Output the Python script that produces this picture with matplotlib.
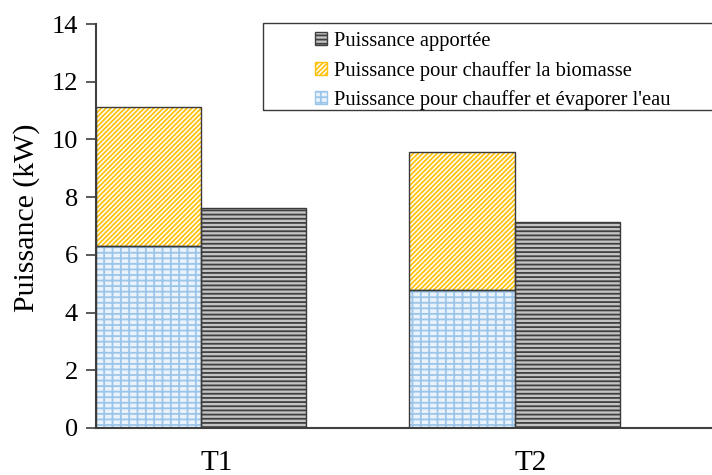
import numpy as np
import matplotlib
matplotlib.use("Agg")
import matplotlib.pyplot as plt
from matplotlib.patches import Patch, Rectangle

# Puissances par essai (kW)
essais = ["T1", "T2"]
p_eau = [6.3, 4.78]          # chauffer et évaporer l'eau
p_biomasse = [4.83, 4.79]    # chauffer la biomasse
p_apportee = [7.62, 7.14]    # puissance apportée
y_ticks = [0, 2, 4, 6, 8, 10, 12, 14]

lbl_apportee = "Puissance apportée"
lbl_biomasse = "Puissance pour chauffer la biomasse"
lbl_eau = "Puissance pour chauffer et évaporer l'eau"

plt.rcParams["font.family"] = ["Liberation Serif", "DejaVu Serif"]
plt.rcParams["hatch.linewidth"] = 1.3

axis_col = "#404040"
edge_col = "#3a3a3a"

# styles: (face, hatch colour, hatch)
st_eau = ("#eaf2fb", "#9cc5ea", "---||")
st_bio = ("#ffffff", "#ffc20e", "///////")
st_app = ("#c4c4c4", "#404040", "----")

fig = plt.figure(figsize=(7.12, 4.75), dpi=100)
ax = fig.add_axes([96 / 712, 47 / 475, 616 / 712, 404 / 475])

x = np.arange(len(essais))
w = 0.335


def hatched_bar(xs, h, bottom, style):
    face, hcol, hatch = style
    ax.bar(xs, h, w, bottom=bottom, align="edge", color=face,
           edgecolor=hcol, hatch=hatch, linewidth=0, zorder=2)
    ax.bar(xs, h, w, bottom=bottom, align="edge", fill=False,
           edgecolor=edge_col, linewidth=1.0, zorder=3)


hatched_bar(x - w, p_eau, 0, st_eau)
hatched_bar(x - w, p_biomasse, p_eau, st_bio)
hatched_bar(x, p_apportee, 0, st_app)

ax.set_xlim(-w, 1.63)
ax.set_ylim(0, 14)
ax.set_yticks(y_ticks)
ax.tick_params(axis="y", direction="out", length=7, width=1.2,
               color=axis_col, labelsize=19, pad=6)
ax.set_xticks(x + 0.05)
ax.set_xticklabels(essais)
ax.tick_params(axis="x", length=0, labelsize=21, pad=16)
ax.set_ylabel("Puissance (kW)", fontsize=21.5)
ax.yaxis.set_label_coords(-0.091, 0.52)

for s in ["top", "right"]:
    ax.spines[s].set_visible(False)
for s in ["left", "bottom"]:
    ax.spines[s].set_color(axis_col)
    ax.spines[s].set_linewidth(1.5)

# legend box
fig.patches.append(Rectangle((263 / 712, 1 - 110 / 475), 0.7, 87 / 475,
                             transform=fig.transFigure, fill=False,
                             edgecolor=edge_col, linewidth=1.0, zorder=5))


def handle(style, label):
    face, hcol, hatch = style
    return Patch(facecolor=face, edgecolor=hcol, hatch=hatch, label=label)


handles = [handle(st_app, lbl_apportee), handle(st_bio, lbl_biomasse),
           handle(st_eau, lbl_eau)]
leg = fig.legend(handles=handles, loc="upper left",
                 bbox_to_anchor=(315 / 712, 1 - 32 / 475), frameon=False,
                 fontsize=14.8, handlelength=0.6, handleheight=0.6,
                 handletextpad=0.3, labelspacing=0.47, borderpad=0,
                 borderaxespad=0)

fig.savefig("out.png", dpi=100)
